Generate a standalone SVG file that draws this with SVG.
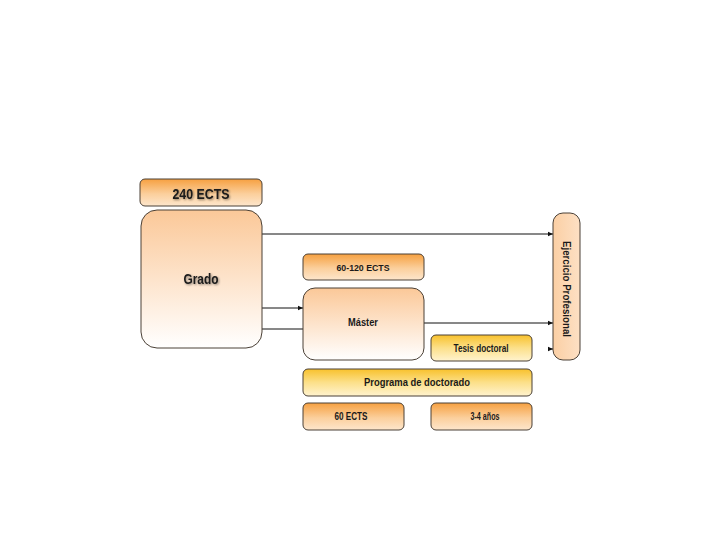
<svg xmlns="http://www.w3.org/2000/svg" width="720" height="540" viewBox="0 0 720 540">
<defs>
<linearGradient id="gOr" x1="0" y1="0" x2="0" y2="1">
<stop offset="0" stop-color="#f6a040"/>
<stop offset="0.55" stop-color="#fbcf9c"/>
<stop offset="1" stop-color="#fde6cc"/>
</linearGradient>
<linearGradient id="gBig" x1="0" y1="0" x2="0" y2="1">
<stop offset="0" stop-color="#fbc898"/>
<stop offset="1" stop-color="#ffffff"/>
</linearGradient>
<linearGradient id="gYe" x1="0" y1="0" x2="0" y2="1">
<stop offset="0" stop-color="#f8c12c"/>
<stop offset="0.5" stop-color="#fce08a"/>
<stop offset="1" stop-color="#fff3cf"/>
</linearGradient>
<linearGradient id="gEj" x1="0" y1="0" x2="1" y2="0">
<stop offset="0" stop-color="#fbcfa4"/>
<stop offset="1" stop-color="#fde0c4"/>
</linearGradient>
<filter id="sh" x="-10%" y="-30%" width="130%" height="170%">
<feGaussianBlur in="SourceAlpha" stdDeviation="1"/>
<feOffset dx="1" dy="1" result="b"/>
<feFlood flood-color="#000" flood-opacity="0.45"/>
<feComposite in2="b" operator="in"/>
<feMerge><feMergeNode/><feMergeNode in="SourceGraphic"/></feMerge>
</filter>
<marker id="ar" markerWidth="6" markerHeight="6" refX="5" refY="3" orient="auto" markerUnits="userSpaceOnUse">
<path d="M0,0.8 L5,3 L0,5.2 Z" fill="#111"/>
</marker>
</defs>
<style>
.box{stroke:#4a4036;stroke-width:1}
.t{font-family:"Liberation Sans Narrow","Liberation Sans",Arial,sans-serif;font-weight:bold;fill:#1a1a1a;text-anchor:middle;dominant-baseline:central}
.c{stroke:#111;stroke-width:1;fill:none}
</style>
<rect width="720" height="540" fill="#ffffff"/>
<g id="connectors">
<line class="c" x1="262" y1="234" x2="553" y2="234" marker-end="url(#ar)"/>
<line class="c" x1="262" y1="308" x2="303" y2="308" marker-end="url(#ar)"/>
<line class="c" x1="262" y1="329" x2="303" y2="329"/>
<line class="c" x1="424" y1="323" x2="553" y2="323" marker-end="url(#ar)"/>
<line class="c" x1="549" y1="349" x2="553" y2="349" marker-end="url(#ar)"/>
</g>
<g id="n240">
<rect class="box" x="140" y="179" width="122" height="27" rx="5" fill="url(#gOr)"/>
<text class="t" x="201" y="193" font-size="15" textLength="57" lengthAdjust="spacingAndGlyphs" filter="url(#sh)">240 ECTS</text>
</g>
<g id="grado">
<rect class="box" x="141" y="210" width="121" height="138" rx="16" fill="url(#gBig)"/>
<text class="t" x="201" y="279" font-size="14" textLength="35" lengthAdjust="spacingAndGlyphs" filter="url(#sh)">Grado</text>
</g>
<g id="n60120">
<rect class="box" x="303" y="254" width="121" height="26" rx="5" fill="url(#gOr)"/>
<text class="t" x="363" y="267.5" font-size="9" textLength="53" lengthAdjust="spacingAndGlyphs">60-120 ECTS</text>
</g>
<g id="master">
<rect class="box" x="303" y="288" width="121" height="72" rx="12" fill="url(#gBig)"/>
<text class="t" x="363" y="322" font-size="11" textLength="30" lengthAdjust="spacingAndGlyphs">Máster</text>
</g>
<g id="tesis">
<rect class="box" x="431" y="335" width="101" height="26" rx="5" fill="url(#gYe)"/>
<text class="t" x="481" y="348" font-size="10" textLength="55" lengthAdjust="spacingAndGlyphs">Tesis doctoral</text>
</g>
<g id="programa">
<rect class="box" x="303" y="369" width="229" height="27" rx="5" fill="url(#gYe)"/>
<text class="t" x="417" y="382" font-size="11" textLength="106" lengthAdjust="spacingAndGlyphs">Programa de doctorado</text>
</g>
<g id="n60">
<rect class="box" x="303" y="403" width="101" height="27" rx="5" fill="url(#gOr)"/>
<text class="t" x="351" y="416" font-size="10" textLength="33" lengthAdjust="spacingAndGlyphs">60 ECTS</text>
</g>
<g id="anios">
<rect class="box" x="431" y="403" width="101" height="27" rx="5" fill="url(#gOr)"/>
<text class="t" x="485" y="416" font-size="10" textLength="29" lengthAdjust="spacingAndGlyphs">3-4 años</text>
</g>
<g id="ejercicio">
<rect class="box" x="553" y="213" width="27" height="147" rx="10" fill="url(#gEj)"/>
<text class="t" x="566.5" y="289" font-size="11" textLength="96" lengthAdjust="spacingAndGlyphs" transform="rotate(90 566.5 289)">Ejercicio Profesional</text>
</g>
</svg>
